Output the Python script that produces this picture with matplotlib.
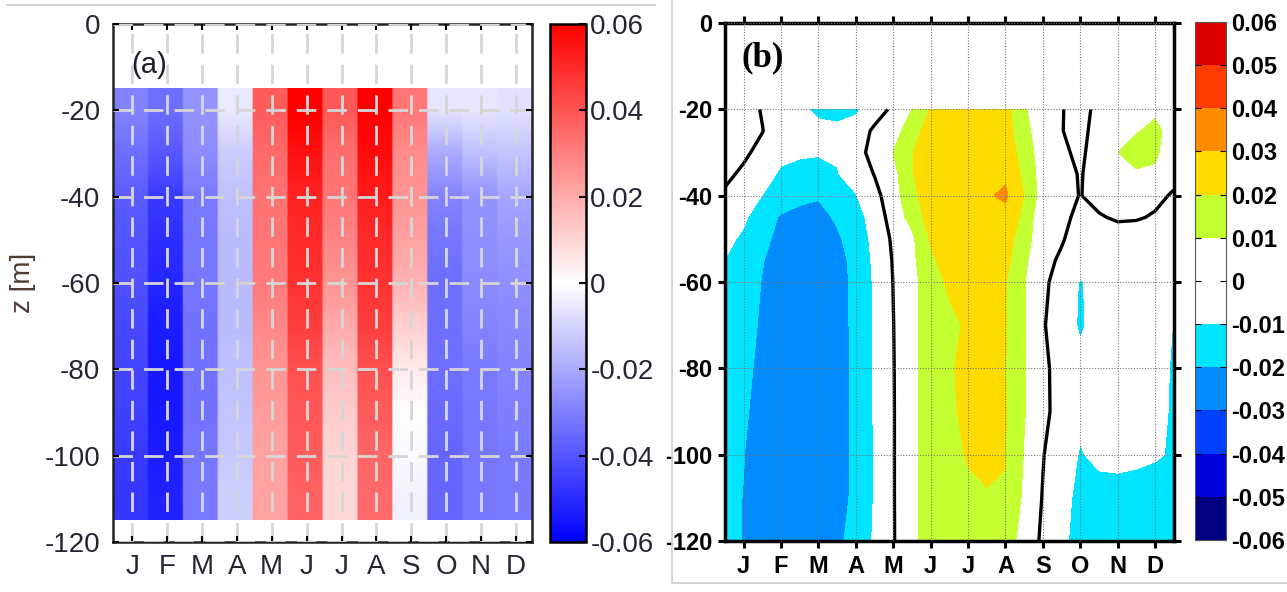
import numpy as np
import matplotlib.pyplot as plt
from matplotlib.lines import Line2D

plt.rcParams['font.family'] = ['Liberation Sans', 'DejaVu Sans']
plt.rcParams['axes.unicode_minus'] = False

months = ['J', 'F', 'M', 'A', 'M', 'J', 'J', 'A', 'S', 'O', 'N', 'D']
month_pos = [1, 2, 3, 4, 5, 6, 7, 8, 9, 10, 11, 12]
z_ticks = [0, -20, -40, -60, -80, -100, -120]

# (a) anomaly per month, rows every 10 m (-20 ... -110)
depth_a = [-20, -30, -40, -50, -60, -70, -80, -90, -100, -110]
anom_a = [
    [-0.029, -0.034, -0.025, -0.005, 0.038, 0.060, 0.039, 0.060, 0.032, -0.006, -0.006, -0.007],
    [-0.034, -0.039, -0.027, -0.012, 0.035, 0.056, 0.034, 0.057, 0.027, -0.020, -0.015, -0.014],
    [-0.038, -0.046, -0.031, -0.015, 0.033, 0.052, 0.032, 0.053, 0.025, -0.029, -0.025, -0.021],
    [-0.040, -0.049, -0.032, -0.016, 0.032, 0.050, 0.029, 0.050, 0.022, -0.032, -0.026, -0.024],
    [-0.041, -0.051, -0.032, -0.016, 0.031, 0.048, 0.025, 0.048, 0.018, -0.034, -0.027, -0.026],
    [-0.043, -0.053, -0.033, -0.016, 0.028, 0.045, 0.020, 0.045, 0.011, -0.034, -0.029, -0.028],
    [-0.044, -0.054, -0.033, -0.015, 0.025, 0.041, 0.015, 0.041, 0.005, -0.034, -0.031, -0.029],
    [-0.045, -0.054, -0.033, -0.014, 0.023, 0.039, 0.012, 0.038, 0.000, -0.035, -0.032, -0.030],
    [-0.046, -0.053, -0.032, -0.013, 0.022, 0.038, 0.010, 0.036, -0.001, -0.036, -0.032, -0.031],
    [-0.047, -0.052, -0.031, -0.011, 0.022, 0.037, 0.009, 0.035, -0.003, -0.036, -0.032, -0.031],
]
cbar_a_ticks = [0.06, 0.04, 0.02, 0, -0.02, -0.04, -0.06]
cbar_a_labels = ['0.06', '0.04', '0.02', '0', '-0.02', '-0.04', '-0.06']

# (b) half-month columns, depth rows from -20 to -120
x_b = [0.5, 1.0, 1.5, 2.0, 2.5, 3.0, 3.5, 4.0, 4.5, 5.0, 5.5, 6.0, 6.5,
       7.0, 7.5, 8.0, 8.5, 9.0, 9.5, 10.0, 10.5, 11.0, 11.5, 12.0, 12.5]
depth_b = [-20, -25, -30, -35, -40, -45, -50, -55, -60, -70, -80, -90, -100, -110, -120]
anom_b = [
    [0.006, 0.003, -0.0005, -0.004, -0.008, -0.012, -0.013, -0.0115, -0.005, 0.002, 0.010, 0.0205, 0.025,
     0.027, 0.027, 0.024, 0.011, 0.0039, 0.0005, -0.0037, 0.0029, 0.006, 0.0075, 0.008, 0.005],
    [0.005, 0.003, 0.0002, -0.004, -0.006, -0.0075, -0.008, -0.006, 0.0019, 0.007, 0.0138, 0.0267, 0.028,
     0.028, 0.028, 0.0245, 0.0127, 0.0048, 0.0004, -0.004, 0.0055, 0.0075, 0.0092, 0.0125, 0.0056],
    [0.003, 0.0012, -0.002, -0.0075, -0.0085, -0.0092, -0.009, -0.007, 0.0065, 0.0101, 0.0195, 0.027, 0.028,
     0.028, 0.028, 0.026, 0.0157, 0.0047, 0.002, -0.0023, 0.0059, 0.0098, 0.0148, 0.0115, 0.0047],
    [0.0015, -0.0012, -0.006, -0.0115, -0.0135, -0.0135, -0.0105, -0.006, 0.0004, 0.0067, 0.0195, 0.0258, 0.028,
     0.028, 0.0285, 0.0285, 0.0176, 0.0053, 0.0025, -0.0005, 0.0031, 0.0065, 0.0085, 0.0085, 0.0025],
    [-0.001, -0.0045, -0.0102, -0.0145, -0.0175, -0.019, -0.016, -0.0105, -0.003, 0.0058, 0.017, 0.026, 0.027,
     0.028, 0.029, 0.0315, 0.0198, 0.0054, 0.003, -0.0003, 0.003, 0.004, 0.004, 0.002, -0.0009],
    [-0.004, -0.0085, -0.0155, -0.021, -0.023, -0.0235, -0.0185, -0.013, -0.0068, 0.0049, 0.013, 0.025, 0.026,
     0.0265, 0.027, 0.027, 0.0175, 0.0019, 0.001, -0.001, -0.0008, 0.0012, 0.0008, -0.0008, -0.003],
    [-0.0078, -0.0115, -0.017, -0.0235, -0.0255, -0.026, -0.0215, -0.0155, -0.0075, 0.0017, 0.008, 0.021, 0.025,
     0.026, 0.026, 0.0245, 0.014, 0.004, 0.0006, -0.003, -0.004, -0.0045, -0.0045, -0.0055, -0.0085],
    [-0.0102, -0.0135, -0.0195, -0.025, -0.027, -0.0275, -0.0245, -0.016, -0.0085, 0.0007, 0.0075, 0.0185, 0.024,
     0.025, 0.0255, 0.023, 0.012, 0.002, -0.001, -0.004, -0.005, -0.006, -0.0065, -0.0075, -0.0095],
    [-0.0115, -0.0145, -0.0205, -0.026, -0.028, -0.0285, -0.0255, -0.0165, -0.009, 0.0002, 0.007, 0.0153, 0.0218,
     0.024, 0.0245, 0.0205, 0.0105, 0.0015, -0.003, -0.0108, -0.006, -0.0065, -0.007, -0.008, -0.0101],
    [-0.013, -0.016, -0.0215, -0.027, -0.029, -0.029, -0.026, -0.0165, -0.009, -0.0002, 0.0075, 0.0145, 0.0175,
     0.0215, 0.023, 0.0205, 0.0105, 0.0008, -0.0049, -0.0112, -0.0065, -0.007, -0.0075, -0.0085, -0.0101],
    [-0.0145, -0.017, -0.023, -0.0275, -0.029, -0.029, -0.0265, -0.0168, -0.0092, -0.0004, 0.0075, 0.0145, 0.019,
     0.0225, 0.0235, 0.0202, 0.0105, 0.0025, -0.0045, -0.0075, -0.007, -0.0075, -0.008, -0.009, -0.0103],
    [-0.016, -0.0185, -0.024, -0.028, -0.029, -0.029, -0.0265, -0.017, -0.0093, -0.0005, 0.0075, 0.0145, 0.0185,
     0.022, 0.0235, 0.0205, 0.0105, 0.0028, -0.0045, -0.0085, -0.0075, -0.008, -0.0085, -0.0093, -0.0103],
    [-0.017, -0.0198, -0.0245, -0.028, -0.029, -0.029, -0.0265, -0.017, -0.0095, -0.0005, 0.0075, 0.0145, 0.017,
     0.0208, 0.0215, 0.0201, 0.0095, 0.0005, -0.0065, -0.0105, -0.0085, -0.0085, -0.009, -0.0095, -0.0105],
    [-0.018, -0.0202, -0.025, -0.028, -0.029, -0.0285, -0.026, -0.0165, -0.0095, -0.0005, 0.0075, 0.0145, 0.0165,
     0.018, 0.0195, 0.0198, 0.008, -0.0005, -0.007, -0.0125, -0.0125, -0.012, -0.012, -0.0125, -0.013],
    [-0.019, -0.0201, -0.025, -0.0275, -0.028, -0.0275, -0.0225, -0.0155, -0.009, -0.0006, 0.0075, 0.0145, 0.016,
     0.017, 0.0175, 0.0155, 0.0055, -0.0015, -0.0085, -0.0125, -0.0125, -0.0125, -0.0125, -0.0125, -0.013],
]
levels_b = [-0.06, -0.05, -0.04, -0.03, -0.02, -0.01, 0.0, 0.01, 0.02, 0.03, 0.04, 0.05, 0.06]
colors_b = ['#000080', '#0000dd', '#0040ff', '#008cff', '#00e4ff', '#ffffff',
            '#ffffff', '#c4ff32', '#ffdc00', '#ff8c00', '#ff3c00', '#dc0000']
cbar_b_labels = ['-0.06', '-0.05', '-0.04', '-0.03', '-0.02', '-0.01', '0',
                 '0.01', '0.02', '0.03', '0.04', '0.05', '0.06']

fig = plt.figure(figsize=(12.87, 5.92), dpi=100)
ax_a = fig.add_axes([0.0878, 0.0845, 0.3253, 0.875])
cax_a = fig.add_axes([0.4274, 0.0845, 0.028, 0.875])
ax_b = fig.add_axes([0.5633, 0.0862, 0.3487, 0.875])
cax_b = fig.add_axes([0.9285, 0.088, 0.0241, 0.875])

# ---- panel (a)
img = np.repeat(np.array(anom_a), 20, axis=1)
im = ax_a.imshow(img, extent=[month_pos[0] - 0.55, month_pos[-1] + 0.45, depth_a[-1] - 5, depth_a[0] + 5],
                 aspect='auto', cmap='bwr', vmin=-0.06, vmax=0.06, interpolation='bilinear')
ax_a.set_xlim(0.45, 12.45)
ax_a.set_ylim(-120, 0)
ax_a.set_xticks(month_pos)
ax_a.set_xticklabels(months)
ax_a.set_yticks(z_ticks)
ax_a.set_yticklabels([str(z) for z in z_ticks])
ax_a.grid(True, color='#d6d6d6', linestyle=(0, (7, 4)), linewidth=2)
ax_a.set_axisbelow(False)
ax_a.tick_params(direction='in', length=4, width=1.5, top=True, right=True,
                 labelsize=20, pad=9, labelcolor='#262633')
for sp in ax_a.spines.values():
    sp.set_linewidth(1.8)
    sp.set_color('#222222')
ax_a.set_ylabel('z [m]', fontsize=20, color='#4d3b33', labelpad=6)
ax_a.text(0.086, 0.921, '(a)', transform=ax_a.transAxes, fontsize=21,
          ha='center', va='center', color='#1e1e2e')

cb_a = fig.colorbar(im, cax=cax_a, ticks=cbar_a_ticks)
cb_a.ax.set_yticklabels(cbar_a_labels)
cb_a.ax.tick_params(direction='in', length=5, width=1.5, labelsize=20, pad=3, labelcolor='#262633')
cb_a.outline.set_linewidth(1.8)

# ---- panel (b)
cf = ax_b.contourf(x_b, depth_b, anom_b, levels=levels_b, colors=colors_b)
ax_b.contour(x_b, depth_b, anom_b, levels=[0.0], colors='black', linewidths=2.4)
ax_b.set_xlim(0.5, 12.5)
ax_b.set_ylim(-120, 0)
ax_b.set_xticks(month_pos)
ax_b.set_xticklabels(months, fontweight='bold')
ax_b.set_yticks(z_ticks)
ax_b.set_yticklabels([str(z) for z in z_ticks], fontweight='bold')
ax_b.grid(True, color='#777777', linestyle=(0, (1, 1.5)), linewidth=0.8)
ax_b.set_axisbelow(False)
ax_b.tick_params(direction='out', length=5, width=2.2, top=True, right=True,
                 labelsize=17, pad=4)
ax_b.tick_params(axis='x', pad=5)
for sp in ax_b.spines.values():
    sp.set_linewidth(2.5)
ax_b.text(0.085, 0.932, '(b)', transform=ax_b.transAxes, fontsize=25, fontweight='bold',
          family='Liberation Serif', ha='center', va='center')

cb_b = fig.colorbar(cf, cax=cax_b, ticks=levels_b)
cb_b.ax.set_yticklabels(cbar_b_labels, fontweight='bold')
cb_b.ax.tick_params(direction='in', length=4, width=0.8, labelsize=17, left=True, right=True, pad=4)
cb_b.outline.set_linewidth(0.8)
cb_b.outline.set_edgecolor('#555555')

# thin frame lines of the two source images
fig.add_artist(Line2D([7 / 1287, 655 / 1287], [1 - 5 / 592, 1 - 5 / 592],
                      color='#cccccc', lw=1.2, transform=fig.transFigure))
fig.add_artist(Line2D([672 / 1287, 672 / 1287, 1.0], [1.0, 1 - 583 / 592, 1 - 583 / 592],
                      color='#cccccc', lw=1.2, transform=fig.transFigure))

fig.savefig('out.png', dpi=100)
